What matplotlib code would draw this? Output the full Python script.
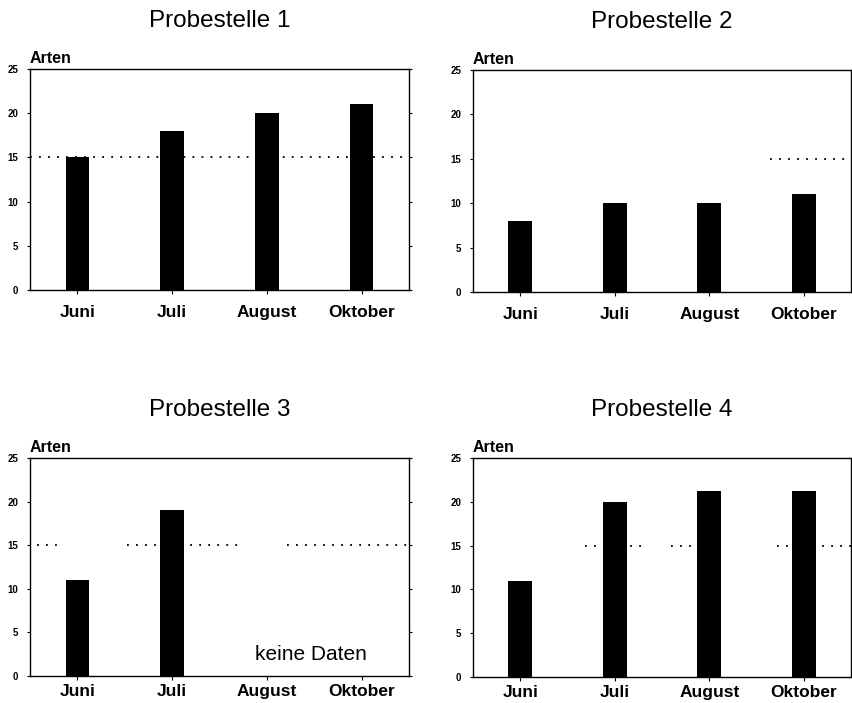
import matplotlib
matplotlib.use("Agg")
import matplotlib.pyplot as plt

plt.rcParams['font.family'] = ['Liberation Sans', 'DejaVu Sans']

months = ["Juni", "Juli", "August", "Oktober"]
titles = ["Probestelle 1", "Probestelle 2", "Probestelle 3", "Probestelle 4"]
p1 = [15, 18, 20, 21]
p2 = [8, 10, 10, 11]
p3 = [11, 19, None, None]
p4 = [11, 20, 21.2, 21.2]
values = [p1, p2, p3, p4]
ref_level = 15
# visible pieces of the dotted 15-line (category units)
ref_segments = [
    [(-0.5, 3.5)],
    [(2.64, 3.5)],
    [(-0.43, -0.21), (0.52, 1.72), (2.21, 3.5)],
    [(0.68, 1.30), (1.60, 1.82), (2.72, 3.5)],
]
yticks = [0, 5, 10, 15, 20, 25]
no_data_text = "keine Daten"

W, H = 852, 703
fig = plt.figure(figsize=(W / 100, H / 100), dpi=100)

boxes = [(30, 409, 69, 290), (473, 851, 70, 292), (30, 409, 458, 676), (473, 851, 458, 677)]

for i, (l, r, t, b) in enumerate(boxes):
    ax = fig.add_axes([l / W, 1 - b / H, (r - l) / W, (b - t) / H])
    xs = [j for j, v in enumerate(values[i]) if v is not None]
    vs = [v for v in values[i] if v is not None]
    ax.bar(xs, vs, width=0.25, color="black", zorder=3)
    for (x0, x1) in ref_segments[i]:
        ax.plot([x0, x1], [ref_level, ref_level], color="black", lw=1.3,
                linestyle=(0, (1, 4)), zorder=2)
    ax.set_xlim(-0.5, 3.5)
    ax.set_ylim(0, 25)
    ax.set_xticks(range(len(months)))
    ax.set_xticklabels(months, fontsize=12.5, fontweight="bold")
    ax.set_yticks(yticks)
    ax.set_yticklabels([str(y) for y in yticks], fontsize=7, fontweight="bold")
    ax.tick_params(axis="x", length=3, width=0.8, pad=8 if i < 2 else 2.5)
    ax.tick_params(axis="y", length=2.5, width=0.8, pad=6, right=True)
    for sp in ax.spines.values():
        sp.set_linewidth(1.0)
        sp.set_color("black")
    ax.text(0, 1 + 6 / (b - t), "Arten", transform=ax.transAxes, fontsize=11.5,
            fontweight="bold", ha="left", va="baseline")
    fig.text(((l + r) / 2) / W, 1 - (t - 48) / H, titles[i], fontsize=17.5,
             ha="center", va="center")
    if i == 2:
        ax.text(2.47, 1.85, no_data_text, fontsize=15, ha="center", va="baseline")

fig.savefig("out.png", dpi=100)
